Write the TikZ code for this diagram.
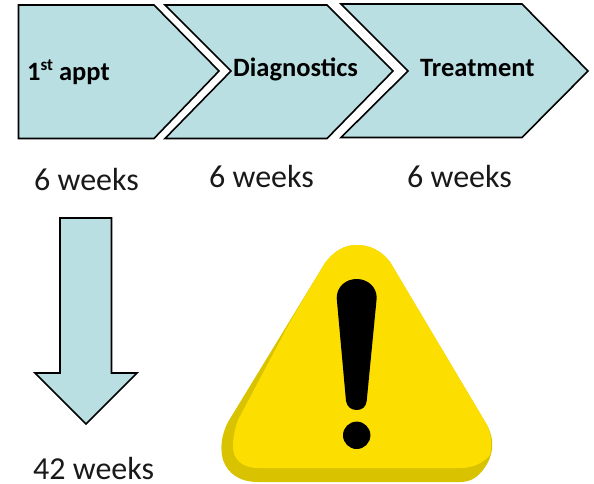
\documentclass[tikz,border=0pt]{standalone}
\usepackage{fontspec}
\setmainfont{Carlito}
\definecolor{paleteal}{HTML}{B9DFE3}
\definecolor{warnyellow}{HTML}{FCDF00}
\definecolor{warndark}{HTML}{D9C300}
\tikzset{
  flowshape/.style={draw=black,line width=1.6pt,fill=paleteal,line join=miter},
  weeklabel/.style={anchor=base west,inner sep=0pt,font=\fontsize{32}{34}\selectfont,text=black!90},
  steplabel/.style={anchor=base west,inner sep=0pt,font=\fontsize{26.5}{28}\selectfont\bfseries,text=black}
}
\begin{document}
\begin{tikzpicture}[x=1pt,y=-1pt]
\useasboundingbox (0,0) rectangle (594,484);
% chevrons
\draw[flowshape] (18.5,5) -- (154,5) -- (219,71) -- (154,138.5) -- (18.5,138.5) -- cycle;
\draw[flowshape] (165,5) -- (327,5) -- (393,71) -- (327,138.5) -- (165,138.5) -- (231,71) -- cycle;
\draw[flowshape] (341,4) -- (522,4) -- (588,71) -- (522,137.5) -- (341,137.5) -- (408,71) -- cycle;
% down arrow
\draw[flowshape] (60,218) -- (111.5,218) -- (111.5,373) -- (137,373) -- (86,424) -- (35,373) -- (60,373) -- cycle;
% warning sign
\fill[warndark] (325,263) .. controls (335,250) and (345,245) .. (357,245)
  .. controls (369,245) and (381,250) .. (390,262)
  -- (487,425) .. controls (494,438) and (494,452) .. (487,464)
  .. controls (480,476) and (472,482) .. (460,482)
  -- (258,482) .. controls (240,482) and (228,474) .. (223,460)
  .. controls (220,448) and (221,436) .. (228,422) -- cycle;
\fill[warnyellow] (325,263) .. controls (335,250) and (345,245) .. (357,245)
  .. controls (369,245) and (381,250) .. (390,262)
  -- (487,425) .. controls (491,433) and (492,445) .. (490,455)
  .. controls (482,464) and (472,468) .. (460,468)
  -- (258,468) .. controls (242,468) and (233,459) .. (233,447)
  .. controls (233,437) and (235,428) .. (238,420)
  -- (290,322) -- cycle;
\fill[black] (336.7,298) .. controls (336.7,287) and (345.5,279) .. (356.7,279)
  .. controls (367.9,279) and (376.7,287) .. (376.7,298)
  -- (366.7,401) .. controls (366,407) and (362,410) .. (356.7,410)
  .. controls (351.4,410) and (347,407) .. (346,401) -- cycle;
\fill[black] (356.7,435.3) circle[radius=13.7];
% labels
\node[steplabel] (first) at (27,81) {1\raisebox{0.38em}{\fontsize{17}{18}\selectfont st} appt};
\node[steplabel] (diag) at (233,77) {Diagnostics};
\node[steplabel] (treat) at (420,77) {Treatment};
\node[weeklabel] (w1) at (34,190.5) {6 weeks};
\node[weeklabel] (w2) at (209,187.5) {6 weeks};
\node[weeklabel] (w3) at (407,187.5) {6 weeks};
\node[weeklabel] (w4) at (33,479.5) {42 weeks};
\end{tikzpicture}
\end{document}
